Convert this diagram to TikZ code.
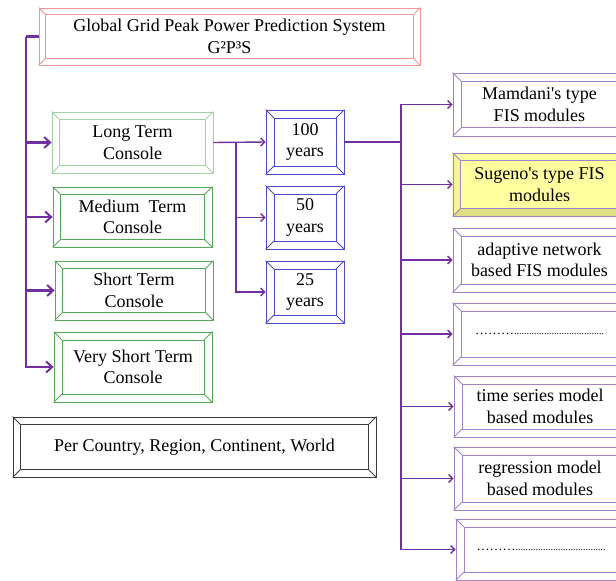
\documentclass[tikz,border=0pt]{standalone}
\usepackage{fontspec}
\setmainfont{Liberation Serif}
\usetikzlibrary{arrows.meta,backgrounds}

\definecolor{titlepink}{RGB}{240,150,150}
\definecolor{lightgreen}{RGB}{165,210,165}
\definecolor{consgreen}{RGB}{85,170,85}
\definecolor{yearblue}{RGB}{75,75,200}
\definecolor{modpurple}{RGB}{160,130,205}
\definecolor{areagray}{RGB}{60,60,60}
\definecolor{linkpurple}{RGB}{112,48,160}
\definecolor{sugfill}{RGB}{255,255,160}
\definecolor{sugdark}{RGB}{222,222,130}
\definecolor{suglight}{RGB}{245,245,150}

% outer frame, inner frame and the four corner mitres of a bevelled box
\newcommand\bevel[3][8pt]{%
  \draw[#3] ([xshift=#1,yshift=-#1]#2.north west) rectangle ([xshift=-#1,yshift=#1]#2.south east);
  \draw[#3] (#2.north west) -- ([xshift=#1,yshift=-#1]#2.north west)
            (#2.north east) -- ([xshift=-#1,yshift=-#1]#2.north east)
            (#2.south west) -- ([xshift=#1,yshift=#1]#2.south west)
            (#2.south east) -- ([xshift=-#1,yshift=#1]#2.south east);}

% placeholder leader: a few wide dots, then a dense run of periods
\newcommand\leaderdots{{\fontsize{13}{15}\selectfont ………}{\fontsize{10}{12}\selectfont ....................................}}

\tikzset{
  bbox/.style={draw=#1, line width=0.8pt, rectangle, inner sep=0pt, align=center,
    text=black, font=\fontsize{18}{21.5}\selectfont},
  link/.style={draw=linkpurple, line width=1.4pt, -{Straight Barb[length=4pt,width=8pt]}},
  trunk/.style={draw=linkpurple, line width=2.2pt, -{Straight Barb[length=6pt,width=11pt,line width=2pt]}},
}

\begin{document}
\begin{tikzpicture}[x=1pt,y=-1pt]
\useasboundingbox (0,0) rectangle (616,581);
\clip (0,0) rectangle (616,581);

% title
\node[bbox=titlepink, minimum width=381pt, minimum height=57pt] (title) at (229.5,36.5)
  {Global Grid Peak Power Prediction System\\G²P³S};
\bevel[7pt]{title}{titlepink, line width=0.8pt}

% consoles
\node[bbox=lightgreen, minimum width=161pt, minimum height=61pt] (long) at (132.5,142.5) {Long Term\\Console};
\bevel{long}{lightgreen, line width=0.8pt}
\node[bbox=consgreen, minimum width=159pt, minimum height=60pt] (medium) at (132.5,217) {Medium\ \ Term\\Console};
\bevel{medium}{consgreen, line width=0.8pt}
\node[bbox=consgreen, minimum width=158pt, minimum height=59pt] (short) at (134,290.5) {Short Term\\Console};
\bevel{short}{consgreen, line width=0.8pt}
\node[bbox=consgreen, minimum width=158pt, minimum height=70pt] (vshort) at (133,367) {Very Short Term\\Console};
\bevel[8.5pt]{vshort}{consgreen, line width=0.8pt}

% horizons
\node[bbox=yearblue, minimum width=78pt, minimum height=64pt] (y100) at (305,142) {100\\years};
\bevel[8.5pt]{y100}{yearblue, line width=0.8pt}
\node[bbox=yearblue, minimum width=78pt, minimum height=63pt] (y50) at (305,217.5) {50\\years};
\bevel[8.5pt]{y50}{yearblue, line width=0.8pt}
\node[bbox=yearblue, minimum width=78pt, minimum height=62pt] (y25) at (305,292) {25\\years};
\bevel[8.5pt]{y25}{yearblue, line width=0.8pt}

% model modules
\node[bbox=modpurple, minimum width=173pt, minimum height=63pt] (mam) at (539.5,104.5) {Mamdani\textquotesingle s type\\FIS modules};
\bevel[9pt]{mam}{modpurple, line width=0.8pt}
\node[bbox=modpurple, minimum width=173pt, minimum height=63pt] (sug) at (539.5,184.5) {Sugeno\textquotesingle s type FIS\\modules};
\begin{pgfonlayer}{background}
  \fill[sugfill] (sug.north west) rectangle (sug.south east);
  \fill[sugdark] (sug.south west) -- ([xshift=8pt,yshift=8pt]sug.south west)
     -- ([xshift=-8pt,yshift=8pt]sug.south east) -- (sug.south east) -- cycle;
  \fill[suglight] (sug.north west) -- ([xshift=8pt,yshift=-8pt]sug.north west)
     -- ([xshift=8pt,yshift=8pt]sug.south west) -- (sug.south west) -- cycle;
\end{pgfonlayer}
\bevel[8pt]{sug}{modpurple, line width=0.8pt}
\node[bbox=modpurple, minimum width=173pt, minimum height=64pt] (adap) at (539.5,260) {adaptive network\\based FIS modules};
\bevel[8.5pt]{adap}{modpurple, line width=0.8pt}
\node[bbox=modpurple, minimum width=173pt, minimum height=62pt] (dotsa) at (539.5,334) {\leaderdots};
\bevel[8.5pt]{dotsa}{modpurple, line width=0.8pt}
\node[bbox=modpurple, minimum width=172pt, minimum height=61pt] (tser) at (540,406.5) {time series model\\based modules};
\bevel[8.5pt]{tser}{modpurple, line width=0.8pt}
\node[bbox=modpurple, minimum width=172pt, minimum height=63pt] (regr) at (540,478.5) {regression model\\based modules};
\bevel[8.5pt]{regr}{modpurple, line width=0.8pt}
\node[bbox=modpurple, minimum width=170pt, minimum height=61pt] (dotsb) at (541,549.5) {\leaderdots};
\bevel[8.5pt]{dotsb}{modpurple, line width=0.8pt}

% geographic scope
\node[bbox=areagray, minimum width=363pt, minimum height=60pt] (area) at (194.5,447) {Per Country, Region, Continent, World};
\bevel[8pt]{area}{areagray, line width=0.8pt}

% connectors
\coordinate (tk) at (26,36.5);
\draw[draw=linkpurple, line width=2.2pt] (title.west) -- (tk);
\draw[trunk] (tk) |- (long.west);
\draw[trunk] (tk) |- (medium.west);
\draw[trunk] (tk) |- (short.west);
\draw[trunk] (tk) |- (vshort.west);

\coordinate (jy) at (236,142);
\draw[link] (long.east) -- (y100.west);
\draw[link] (jy) |- (y50.west);
\draw[link] (jy) |- (y25.west);

\coordinate (jm) at (401,142);
\draw[draw=linkpurple, line width=1.4pt] (y100.east) -- (jm);
\draw[link] (jm) |- (mam.west);
\draw[link] (jm) |- (sug.west);
\draw[link] (jm) |- (adap.west);
\draw[link] (jm) |- (dotsa.west);
\draw[link] (jm) |- (tser.west);
\draw[link] (jm) |- (regr.west);
\draw[link] (jm) |- (dotsb.west);
\end{tikzpicture}
\end{document}
